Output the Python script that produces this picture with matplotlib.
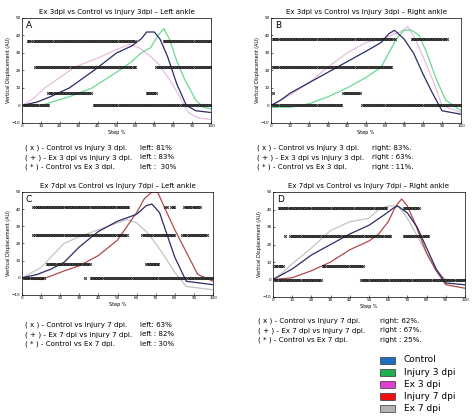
import matplotlib.pyplot as plt
import matplotlib.patches as mpatches
import numpy as np

W, H = 474, 418

# curve key points (step %, displacement)
A_ctrl = ([0, 8, 15, 25, 38, 50, 58, 63, 66, 70, 73, 77, 82, 87, 92, 100], [0, 2, 5, 10, 20, 30, 34, 38, 42, 42, 38, 28, 12, 0, -3, -4])
A_inj = ([0, 10, 25, 37, 50, 58, 63, 68, 72, 75, 78, 82, 86, 92, 96, 100], [0, 0, 5, 10, 19, 25, 30, 33, 40, 44, 38, 25, 15, 3, -1, -2])
A_ex = ([0, 6, 12, 20, 28, 40, 50, 57, 62, 68, 72, 78, 83, 88, 93, 100], [0, 4, 10, 16, 22, 27, 32, 35, 33, 28, 24, 15, 6, -4, -7, -8])
B_ctrl = ([0, 5, 10, 20, 30, 40, 50, 58, 62, 65, 70, 75, 80, 85, 90, 100], [0, 3, 7, 13, 19, 25, 31, 36, 41, 43, 38, 30, 18, 7, -3, -5])
B_inj = ([0, 10, 20, 30, 40, 50, 58, 62, 66, 70, 74, 78, 82, 87, 92, 100], [-1, -1, 1, 5, 10, 16, 22, 30, 38, 43, 43, 40, 30, 15, 3, -3])
B_ex = ([0, 5, 10, 20, 30, 40, 50, 58, 63, 68, 72, 76, 80, 85, 90, 100], [0, 3, 6, 13, 22, 30, 36, 38, 40, 42, 45, 38, 28, 15, 0, -4])
C_ctrl = ([0, 8, 15, 22, 30, 40, 50, 55, 60, 65, 68, 72, 76, 80, 86, 100], [0, 2, 5, 9, 18, 27, 33, 35, 37, 42, 43, 38, 25, 12, -2, -4])
C_inj = ([0, 10, 15, 22, 30, 40, 50, 55, 60, 64, 68, 71, 75, 80, 86, 92, 100], [0, -1, 1, 4, 7, 13, 22, 30, 38, 46, 50, 50, 40, 28, 15, 2, -2])
C_ex = ([0, 5, 10, 15, 22, 30, 40, 50, 55, 60, 65, 70, 75, 80, 86, 100], [0, 3, 6, 12, 20, 24, 28, 32, 34, 32, 27, 20, 12, 3, -5, -7])
D_ctrl = ([0, 5, 10, 20, 30, 40, 50, 58, 63, 65, 70, 75, 80, 85, 90, 100], [0, 3, 6, 14, 20, 26, 31, 37, 41, 42, 38, 30, 18, 6, -2, -3])
D_inj = ([0, 10, 20, 30, 40, 50, 55, 60, 64, 67, 70, 74, 80, 85, 90, 100], [0, 1, 5, 10, 17, 22, 26, 33, 42, 46, 42, 32, 15, 5, -3, -5])
D_ex = ([0, 5, 10, 20, 30, 40, 50, 55, 60, 65, 70, 75, 80, 85, 90, 100], [0, 4, 9, 18, 28, 33, 35, 40, 42, 42, 35, 25, 15, 5, 0, -1])

# significance rows: level -> list of (start, end) step ranges
A_sig = {37: [(3, 5), (6, 60), (75, 100)], 22: [(7, 60), (71, 100)], 7: [(14, 37), (66, 71)], 0: [(1, 14), (38, 100)]}
B_sig = {38: [(1, 65), (74, 93)], 22: [(1, 64)], 7: [(1, 1.5), (38, 47)], 0: [(1, 37), (48, 100)]}
C_sig = {41: [(6, 56), (75, 76), (78, 80), (85, 93)], 25: [(6, 55), (63, 80), (84, 97)], 8: [(13, 36), (65, 72)], 0: [(1, 12), (33, 33.5), (36, 100)]}
D_sig = {41: [(3, 59), (68, 76)], 25: [(6, 6.5), (9, 61), (68, 81)], 8: [(1, 5), (26, 47)], 0: [(1, 25), (46, 100)]}

titles = ["Ex 3dpl vs Control vs Injury 3dpi \u2013 Left ankle",
          "Ex 3dpl vs Control vs Injury 3dpi \u2013 Right ankle",
          "Ex 7dpl vs Control vs Injury 7dpi \u2013 Left ankle",
          "Ex 7dpl vs Control vs Injury 7dpi \u2013 Right ankle"]
letters = ["A", "B", "C", "D"]
comp_a = ["( x ) - Control vs Injury 3 dpi.", "( + ) - Ex 3 dpi vs Injury 3 dpi.", "( * ) - Control vs Ex 3 dpi."]
comp_c = ["( x ) - Control vs Injury 7 dpi.", "( + ) - Ex 7 dpi vs Injury 7 dpi.", "( * ) - Control vs Ex 7 dpi."]
pct = [["left: 81%", "left : 83%", "left :  30%"],
       ["right: 83%.", "right : 63%.", "right : 11%."],
       ["left: 63%", "left : 82%", "left : 30%"],
       ["right: 62%.", "right : 67%.", "right : 25%."]]

legend_labels = ["Control", "Injury 3 dpi", "Ex 3 dpi", "Injury 7 dpi", "Ex 7 dpi"]
legend_colors = ["#1f6fc0", "#1fae50", "#e040d0", "#ee1111", "#b4b4b4"]

c_ctrl = "#2b2b66"
c_inj3 = "#6bd894"
c_ex3 = "#e6bfe0"
c_inj7 = "#b24a4a"
c_ex7 = "#c4c4c4"

panels = [
    ((22, 18, 211, 123), [(A_ex, c_ex3), (A_inj, c_inj3), (A_ctrl, c_ctrl)], A_sig, comp_a, (25, 140, 148)),
    ((271, 18, 461, 123), [(B_ex, c_ex3), (B_inj, c_inj3), (B_ctrl, c_ctrl)], B_sig, comp_a, (257, 372, 148)),
    ((22, 192, 213, 295), [(C_ex, c_ex7), (C_inj, c_inj7), (C_ctrl, c_ctrl)], C_sig, comp_c, (25, 140, 325)),
    ((273, 192, 465, 297), [(D_ex, c_ex7), (D_inj, c_inj7), (D_ctrl, c_ctrl)], D_sig, comp_c, (258, 380, 321)),
]

fig = plt.figure(figsize=(W / 100, H / 100), dpi=100)

for i, (box, curves, sig, comp, (tx, px, ty)) in enumerate(panels):
    x0, y0, x1, y1 = box
    ax = fig.add_axes([x0 / W, 1 - y1 / H, (x1 - x0) / W, (y1 - y0) / H])
    for (xs, ys), col in curves:
        ax.plot(xs, ys, color=col, lw=0.9)
    for lvl, ranges in sig.items():
        for s, e in ranges:
            xs = np.arange(s, e + 0.01, 0.8)
            ax.plot(xs, np.full_like(xs, lvl), ls="none", marker="x", ms=1.8, mew=0.7, color="#222222")
    ax.set_xlim(0, 100)
    ax.set_ylim(-10, 50)
    ax.set_xticks(range(0, 101, 10))
    ax.set_yticks(range(-10, 51, 10))
    ax.tick_params(labelsize=3, length=1.5, width=0.4, pad=1, direction="in")
    for sp in ax.spines.values():
        sp.set_linewidth(0.5)
    ax.set_xlabel("Step %", fontsize=3.5, labelpad=1)
    ax.set_ylabel("Vertical Displacement (AU)", fontsize=3.5, labelpad=1)
    ax.set_title(titles[i], fontsize=5, pad=3)
    ax.text(0.02, 0.97, letters[i], transform=ax.transAxes, fontsize=6.5, va="top", ha="left")
    for k in range(3):
        yy = 1 - (ty + k * 9.3) / H
        fig.text(tx / W, yy, comp[k], fontsize=5.1, va="center")
        fig.text(px / W, yy, pct[i][k], fontsize=5.1, va="center")

for k, (lab, col) in enumerate(zip(legend_labels, legend_colors)):
    yc = 360 + k * 12.2
    fig.patches.append(mpatches.Rectangle((380 / W, 1 - (yc + 3.5) / H), 15 / W, 7 / H,
                                          transform=fig.transFigure, facecolor=col,
                                          edgecolor="#333333", lw=0.5))
    fig.text(404 / W, 1 - yc / H, lab, fontsize=6.5, va="center")

fig.savefig("out.png", dpi=100)
